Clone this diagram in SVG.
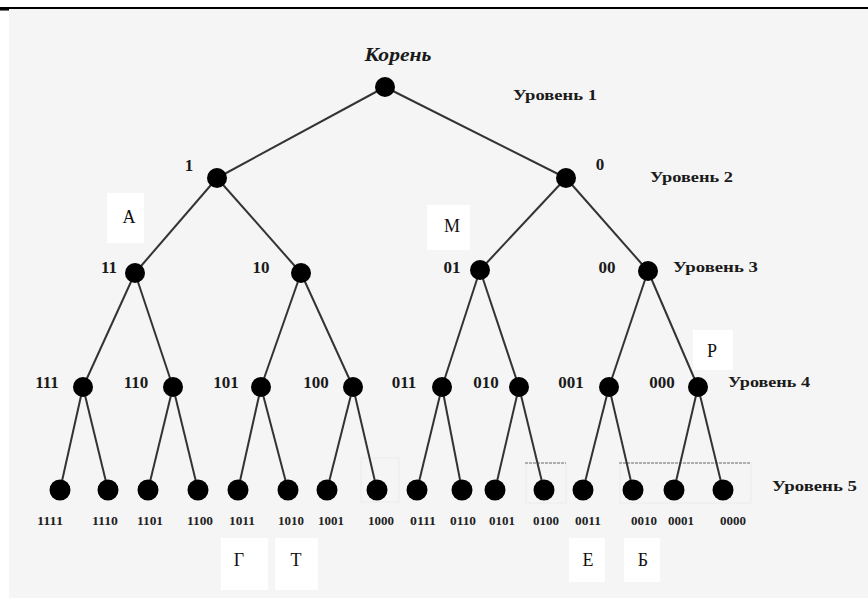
<svg xmlns="http://www.w3.org/2000/svg" width="868" height="598" viewBox="0 0 868 598">
<style>
.n{fill:#000}
.e{stroke:#333;stroke-width:2;fill:none}
.lbl{font-family:"Liberation Serif",serif;font-weight:bold;font-size:17px;fill:#1a1a1a;text-anchor:middle}
.lvl{font-family:"Liberation Serif",serif;font-weight:bold;font-size:15px;fill:#1a1a1a}
.leaf{font-family:"Liberation Serif",serif;font-weight:bold;font-size:12px;fill:#222;text-anchor:middle}
.box{fill:#fff}
.let{font-family:"Liberation Serif",serif;font-size:18px;fill:#111;text-anchor:middle}
.faint{fill:none;stroke:#ebebeb;stroke-width:1}
.dash{stroke:#999;stroke-width:1.5;stroke-dasharray:3 1}
</style>
<rect x="0" y="0" width="868" height="598" fill="#fff"/>
<rect x="9" y="9" width="859" height="589" fill="#f5f5f5"/>
<line x1="0" y1="8" x2="868" y2="8" stroke="#000" stroke-width="2"/>
<line x1="0" y1="9.8" x2="9" y2="9.8" stroke="#000" stroke-width="1.5"/>

<g id="backdrops">
<rect class="faint" x="361" y="458" width="38" height="44"/>
<rect class="faint" x="526" y="463" width="40" height="40"/>
<rect class="faint" x="620" y="463" width="131" height="40"/>
<line class="dash" x1="525" y1="463" x2="566" y2="463"/>
<line class="dash" x1="619" y1="463" x2="751" y2="463"/>
</g>

<g id="connectors">
<line class="e" x1="385" y1="87" x2="217" y2="178"/>
<line class="e" x1="385" y1="87" x2="566" y2="178"/>
<line class="e" x1="217" y1="178" x2="135" y2="273"/>
<line class="e" x1="217" y1="178" x2="301" y2="273"/>
<line class="e" x1="566" y1="178" x2="480" y2="270"/>
<line class="e" x1="566" y1="178" x2="648" y2="271"/>
<line class="e" x1="135" y1="273" x2="83" y2="387"/>
<line class="e" x1="135" y1="273" x2="173" y2="387"/>
<line class="e" x1="301" y1="273" x2="261" y2="387"/>
<line class="e" x1="301" y1="273" x2="353" y2="387"/>
<line class="e" x1="480" y1="270" x2="442" y2="387"/>
<line class="e" x1="480" y1="270" x2="519" y2="387"/>
<line class="e" x1="648" y1="271" x2="609" y2="387"/>
<line class="e" x1="648" y1="271" x2="698" y2="387"/>
<line class="e" x1="83" y1="387" x2="60" y2="490"/>
<line class="e" x1="83" y1="387" x2="108" y2="490"/>
<line class="e" x1="173" y1="387" x2="148" y2="490"/>
<line class="e" x1="173" y1="387" x2="198" y2="490"/>
<line class="e" x1="261" y1="387" x2="238" y2="490"/>
<line class="e" x1="261" y1="387" x2="288" y2="490"/>
<line class="e" x1="353" y1="387" x2="327" y2="490"/>
<line class="e" x1="353" y1="387" x2="377" y2="490"/>
<line class="e" x1="442" y1="387" x2="417" y2="490"/>
<line class="e" x1="442" y1="387" x2="462" y2="490"/>
<line class="e" x1="519" y1="387" x2="495" y2="490"/>
<line class="e" x1="519" y1="387" x2="544" y2="490"/>
<line class="e" x1="609" y1="387" x2="583" y2="490"/>
<line class="e" x1="609" y1="387" x2="633" y2="490"/>
<line class="e" x1="698" y1="387" x2="674" y2="490"/>
<line class="e" x1="698" y1="387" x2="723" y2="490"/>
</g>

<g id="root"><circle class="n" cx="385" cy="87" r="10"/><text x="398" y="61" font-family="Liberation Serif,serif" font-weight="bold" font-style="italic" font-size="18" fill="#1a1a1a" text-anchor="middle" textLength="67" lengthAdjust="spacingAndGlyphs">Корень</text></g>
<g id="n1"><circle class="n" cx="217" cy="178" r="10"/><text class="lbl" x="189" y="171">1</text></g>
<g id="n0"><circle class="n" cx="566" cy="178" r="10"/><text class="lbl" x="600" y="170">0</text></g>
<g id="n11"><circle class="n" cx="135" cy="273" r="10"/><text class="lbl" x="109" y="273">11</text></g>
<g id="n10"><circle class="n" cx="301" cy="273" r="10"/><text class="lbl" x="261" y="273">10</text></g>
<g id="n01"><circle class="n" cx="480" cy="270" r="10"/><text class="lbl" x="452" y="273">01</text></g>
<g id="n00"><circle class="n" cx="648" cy="271" r="10"/><text class="lbl" x="607" y="273">00</text></g>
<g id="n111"><circle class="n" cx="83" cy="387" r="10"/><text class="lbl" x="47" y="388">111</text></g>
<g id="n110"><circle class="n" cx="173" cy="387" r="10"/><text class="lbl" x="136" y="388">110</text></g>
<g id="n101"><circle class="n" cx="261" cy="387" r="10"/><text class="lbl" x="226" y="388">101</text></g>
<g id="n100"><circle class="n" cx="353" cy="387" r="10"/><text class="lbl" x="316" y="388">100</text></g>
<g id="n011"><circle class="n" cx="442" cy="387" r="10"/><text class="lbl" x="404" y="388">011</text></g>
<g id="n010"><circle class="n" cx="519" cy="387" r="10"/><text class="lbl" x="486" y="388">010</text></g>
<g id="n001"><circle class="n" cx="609" cy="387" r="10"/><text class="lbl" x="571" y="388">001</text></g>
<g id="n000"><circle class="n" cx="698" cy="387" r="10"/><text class="lbl" x="662" y="388">000</text></g>

<g id="l1111"><circle class="n" cx="60" cy="490" r="10.5"/><text class="leaf" x="50" y="525" textLength="26" lengthAdjust="spacingAndGlyphs">1111</text></g>
<g id="l1110"><circle class="n" cx="108" cy="490" r="10.5"/><text class="leaf" x="105" y="525" textLength="26" lengthAdjust="spacingAndGlyphs">1110</text></g>
<g id="l1101"><circle class="n" cx="148" cy="490" r="10.5"/><text class="leaf" x="150" y="525" textLength="26" lengthAdjust="spacingAndGlyphs">1101</text></g>
<g id="l1100"><circle class="n" cx="198" cy="490" r="10.5"/><text class="leaf" x="200" y="525" textLength="26" lengthAdjust="spacingAndGlyphs">1100</text></g>
<g id="l1011"><circle class="n" cx="238" cy="490" r="10.5"/><text class="leaf" x="242" y="525" textLength="26" lengthAdjust="spacingAndGlyphs">1011</text></g>
<g id="l1010"><circle class="n" cx="288" cy="490" r="10.5"/><text class="leaf" x="291" y="525" textLength="26" lengthAdjust="spacingAndGlyphs">1010</text></g>
<g id="l1001"><circle class="n" cx="327" cy="490" r="10.5"/><text class="leaf" x="331" y="525" textLength="26" lengthAdjust="spacingAndGlyphs">1001</text></g>
<g id="l1000"><circle class="n" cx="377" cy="490" r="10.5"/><text class="leaf" x="381" y="525" textLength="26" lengthAdjust="spacingAndGlyphs">1000</text></g>
<g id="l0111"><circle class="n" cx="417" cy="490" r="10.5"/><text class="leaf" x="423" y="525" textLength="26" lengthAdjust="spacingAndGlyphs">0111</text></g>
<g id="l0110"><circle class="n" cx="462" cy="490" r="10.5"/><text class="leaf" x="463" y="525" textLength="26" lengthAdjust="spacingAndGlyphs">0110</text></g>
<g id="l0101"><circle class="n" cx="495" cy="490" r="10.5"/><text class="leaf" x="502" y="525" textLength="26" lengthAdjust="spacingAndGlyphs">0101</text></g>
<g id="l0100"><circle class="n" cx="544" cy="490" r="10.5"/><text class="leaf" x="546" y="525" textLength="26" lengthAdjust="spacingAndGlyphs">0100</text></g>
<g id="l0011"><circle class="n" cx="583" cy="490" r="10.5"/><text class="leaf" x="588" y="525" textLength="26" lengthAdjust="spacingAndGlyphs">0011</text></g>
<g id="l0010"><circle class="n" cx="633" cy="490" r="10.5"/><text class="leaf" x="644" y="525" textLength="26" lengthAdjust="spacingAndGlyphs">0010</text></g>
<g id="l0001"><circle class="n" cx="674" cy="490" r="10.5"/><text class="leaf" x="681" y="525" textLength="26" lengthAdjust="spacingAndGlyphs">0001</text></g>
<g id="l0000"><circle class="n" cx="723" cy="490" r="10.5"/><text class="leaf" x="733" y="525" textLength="26" lengthAdjust="spacingAndGlyphs">0000</text></g>

<g id="levels">
<text class="lvl" x="513" y="100" textLength="84" lengthAdjust="spacingAndGlyphs">Уровень 1</text>
<text class="lvl" x="650" y="182" textLength="83" lengthAdjust="spacingAndGlyphs">Уровень 2</text>
<text class="lvl" x="673" y="272" textLength="85" lengthAdjust="spacingAndGlyphs">Уровень 3</text>
<text class="lvl" x="728" y="387" textLength="82" lengthAdjust="spacingAndGlyphs">Уровень 4</text>
<text class="lvl" x="772" y="491" textLength="85" lengthAdjust="spacingAndGlyphs">Уровень 5</text>
</g>

<g id="letA"><rect class="box" x="107" y="193" width="37" height="50"/><text class="let" x="129" y="223">А</text></g>
<g id="letM"><rect class="box" x="427" y="205" width="43" height="45"/><text class="let" x="452" y="232">М</text></g>
<g id="letP"><rect class="box" x="693" y="330" width="40" height="40"/><text class="let" x="712" y="357">Р</text></g>
<g id="letG"><rect class="box" x="221" y="538" width="47" height="52"/><text class="let" x="239" y="566">Г</text></g>
<g id="letT"><rect class="box" x="275" y="538" width="43" height="52"/><text class="let" x="296" y="566">Т</text></g>
<g id="letE"><rect class="box" x="569" y="538" width="36" height="44"/><text class="let" x="588" y="566">Е</text></g>
<g id="letB"><rect class="box" x="624" y="538" width="36" height="44"/><text class="let" x="643" y="566">Б</text></g>
</svg>
